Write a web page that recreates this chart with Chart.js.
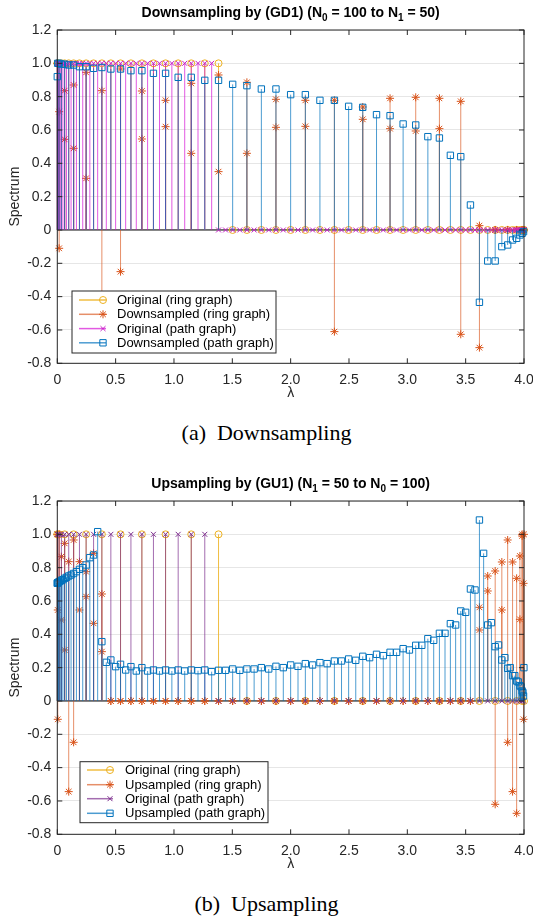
<!DOCTYPE html>
<html lang="en">
<head>
<meta charset="utf-8"/>
<title>Spectrum of down/upsampled signals</title>
<script src="https://cdn.jsdelivr.net/npm/chart.js"></script>
<style>
  body { margin: 0; background: #fff; width: 533px; height: 918px; position: relative; overflow: hidden; }
  canvas { position: absolute; left: 0; }
  #down { top: 0; }
  #up { top: 471px; }
  .cap { position: absolute; left: 0; width: 533px; text-align: center;
         font-family: "Liberation Serif", "Times New Roman", serif; font-size: 22px; color: #000; }
</style>
</head>
<body>
<canvas id="down" width="533" height="400"></canvas>
<div class="cap" style="top:420px">(a)&nbsp; Downsampling</div>
<canvas id="up" width="533" height="400"></canvas>
<div class="cap" style="top:891px">(b)&nbsp; Upsampling</div>
<script>
// graph frequencies (eigenvalues) for path / ring graphs
const lamPath100 = [0, 0.001, 0.004, 0.009, 0.016, 0.025, 0.035, 0.048, 0.063, 0.079,
  0.098, 0.118, 0.140, 0.164, 0.190, 0.218, 0.247, 0.279, 0.311, 0.346,
  0.382, 0.420, 0.459, 0.500, 0.542, 0.586, 0.631, 0.677, 0.725, 0.774,
  0.824, 0.876, 0.928, 0.982, 1.036, 1.092, 1.148, 1.206, 1.264, 1.323,
  1.382, 1.442, 1.503, 1.564, 1.625, 1.687, 1.749, 1.812, 1.874, 1.937,
  2.000, 2.063, 2.126, 2.188, 2.251, 2.313, 2.375, 2.436, 2.497, 2.558,
  2.618, 2.677, 2.736, 2.794, 2.852, 2.908, 2.964, 3.018, 3.072, 3.124,
  3.176, 3.226, 3.275, 3.323, 3.369, 3.414, 3.458, 3.500, 3.541, 3.580,
  3.618, 3.654, 3.689, 3.721, 3.753, 3.782, 3.810, 3.836, 3.860, 3.882,
  3.902, 3.921, 3.937, 3.952, 3.965, 3.975, 3.984, 3.991, 3.996, 3.999];
const lamPath50 = [0, 0.004, 0.016, 0.035, 0.063, 0.098, 0.140, 0.190, 0.247, 0.311,
  0.382, 0.459, 0.542, 0.631, 0.725, 0.824, 0.928, 1.036, 1.148, 1.264,
  1.382, 1.503, 1.625, 1.749, 1.874, 2.000, 2.126, 2.251, 2.375, 2.497,
  2.618, 2.736, 2.852, 2.964, 3.072, 3.176, 3.275, 3.369, 3.458, 3.541,
  3.618, 3.689, 3.753, 3.810, 3.860, 3.902, 3.937, 3.965, 3.984, 3.996];
const lamRing100 = [0, 0.004, 0.016, 0.035, 0.063, 0.098, 0.140, 0.190, 0.247, 0.311,
  0.382, 0.459, 0.542, 0.631, 0.725, 0.824, 0.928, 1.036, 1.148, 1.264,
  1.382, 1.503, 1.625, 1.749, 1.874, 2.000, 2.126, 2.251, 2.375, 2.497,
  2.618, 2.736, 2.852, 2.964, 3.072, 3.176, 3.275, 3.369, 3.458, 3.541,
  3.618, 3.689, 3.753, 3.810, 3.860, 3.902, 3.937, 3.965, 3.984, 3.996, 4.000];
const lamRing50 = [0, 0.016, 0.063, 0.140, 0.247, 0.382, 0.542, 0.725, 0.928, 1.148,
  1.382, 1.625, 1.874, 2.126, 2.375, 2.618, 2.852, 3.072, 3.275, 3.458,
  3.618, 3.753, 3.860, 3.937, 3.984, 4.000];

// (a) downsampling N0 = 100 -> N1 = 50
const origRingA = [1, 1, 1, 1, 1, 1, 1, 1, 1, 1, 1, 1, 1, 1, 1, 1, 1, 1, 1, 1, 1,
  0, 0, 0, 0, 0, 0, 0, 0, 0, 0, 0, 0, 0, 0, 0, 0, 0, 0, 0, 0, 0, 0, 0, 0, 0, 0, 0, 0, 0, 0];
const origPathA = [1, 1, 1, 1, 1, 1, 1, 1, 1, 1, 1, 1, 1, 1, 1, 1, 1, 1, 1, 1,
  1, 1, 1, 1, 1, 1, 1, 1, 1, 1, 1, 1, 1, 1, 1, 1, 1, 1, 1, 1,
  0, 0, 0, 0, 0, 0, 0, 0, 0, 0, 0, 0, 0, 0, 0, 0, 0, 0, 0, 0,
  0, 0, 0, 0, 0, 0, 0, 0, 0, 0, 0, 0, 0, 0, 0, 0, 0, 0, 0, 0,
  0, 0, 0, 0, 0, 0, 0, 0, 0, 0, 0, 0, 0, 0, 0, 0, 0, 0, 0, 0];
// ring eigenvalues repeat, so each frequency holds one or two coefficients
const downRingA = [[1.0], [0.71, -0.11], [0.836, 0.544], [0.87, 0.49], [0.946, 0.31],
  [0.836, -0.5], [0.966, -0.25], [0.834, 0.546], [0.778, 0.62], [0.88, 0.46],
  [0.93, 0.35], [0.886, 0.46], [0.784, 0.616], [0.778, 0.622], [0.778, -0.61],
  [0.738, 0.664], [0.79, 0.608], [0.796, 0.594], [0.79, 0.608], [0.772, -0.626],
  [0.026, -0.706], [0, 0], [0, 0], [0, 0], [0, 0], [0]];
const downPathA = [0.92, 1.0, 1.0, 0.995, 0.995, 0.99, 0.99, 0.98, 0.98, 0.97,
  0.975, 0.966, 0.966, 0.956, 0.956, 0.94, 0.94, 0.916, 0.916, 0.898,
  0.898, 0.874, 0.866, 0.846, 0.846, 0.812, 0.812, 0.778, 0.778, 0.742,
  0.736, 0.692, 0.686, 0.636, 0.63, 0.56, 0.552, 0.448, 0.44, 0.15,
  -0.434, -0.186, -0.186, -0.1, -0.09, -0.06, -0.05, -0.03, -0.02, -0.01];

// (b) upsampling N1 = 50 -> N0 = 100
const origRingB = [1, 1, 1, 1, 1, 1, 1, 1, 1, 1, 1, 0, 0, 0, 0, 0, 0, 0, 0, 0, 0, 0, 0, 0, 0, 0];
const origPathB = [1, 1, 1, 1, 1, 1, 1, 1, 1, 1, 1, 1, 1, 1, 1, 1, 1, 1, 1, 1,
  0, 0, 0, 0, 0, 0, 0, 0, 0, 0, 0, 0, 0, 0, 0, 0, 0, 0, 0, 0, 0, 0, 0, 0, 0, 0, 0, 0, 0, 0];
const upRingB = [[1.0], [0.546, -0.11], [1.0, 0.72], [0.866, 0.486], [0.946, 0.306],
  [0.836, -0.544], [0.966, -0.248], [0.836, 0.546], [0.776, 0.626], [0.886, 0.466],
  [0.642, 0.296], [0, 0], [0, 0], [0, 0], [0, 0], [0, 0], [0, 0], [0, 0], [0, 0], [0, 0],
  [0, 0], [0, 0], [0, 0], [0, 0], [0, 0], [0, 0], [0, 0], [0, 0], [0, 0], [0, 0],
  [0, 0], [0, 0], [0, 0], [0, 0], [0, 0], [0, 0], [0, 0], [0, 0], [0, 0], [0, 0],
  [0.562, 0.426], [0.75, 0.66], [0.78, -0.62], [0.834, 0.546], [0.966, -0.248],
  [0.834, -0.544], [0.736, -0.674], [0.87, 0.49], [1.0, 0.99], [0.706, -0.11], [1.0]];
const upPathB = [0.706, 0.708, 0.71, 0.712, 0.716, 0.72, 0.724, 0.728, 0.736, 0.742,
  0.75, 0.756, 0.765, 0.776, 0.79, 0.80, 0.816, 0.86, 0.876, 1.016,
  0.356, 0.232, 0.246, 0.206, 0.22, 0.186, 0.206, 0.18, 0.2, 0.18,
  0.186, 0.18, 0.186, 0.18, 0.186, 0.18, 0.186, 0.182, 0.186, 0.176,
  0.184, 0.184, 0.192, 0.184, 0.192, 0.192, 0.2, 0.192, 0.208, 0.2,
  0.216, 0.208, 0.224, 0.216, 0.23, 0.224, 0.24, 0.24, 0.252, 0.244,
  0.268, 0.26, 0.28, 0.272, 0.292, 0.292, 0.314, 0.306, 0.334, 0.334,
  0.374, 0.364, 0.406, 0.406, 0.464, 0.456, 0.54, 0.532, 0.672, 0.666,
  1.086, 0.886, 0.456, 0.47, 0.326, 0.336, 0.246, 0.26, 0.196, 0.2,
  0.152, 0.152, 0.12, 0.114, 0.092, 0.085, 0.06, 0.05, 0.03, 0.2];

const ink = '#262626';
const fontFam = '"Liberation Sans", Arial, Helvetica, sans-serif';
Chart.defaults.font.family = fontFam;
Chart.defaults.color = ink;

function pts(xs, ys) { return ys.map((v, i) => ({ x: xs[i], y: v })); }
function groupPts(xs, groups) {
  const out = [];
  groups.forEach((g, i) => g.forEach(v => out.push({ x: xs[i], y: v })));
  return out;
}
const fmt = v => Math.abs(v) < 1e-9 ? '0' : v.toFixed(1);

function series(label, data, style, color, stem, radius, order) {
  return {
    label, data, order, stemColor: stem,
    pointStyle: style, pointRadius: radius, pointHoverRadius: radius,
    pointBorderColor: color, borderColor: color,
    pointBackgroundColor: 'rgba(0,0,0,0)', backgroundColor: 'rgba(0,0,0,0)',
    pointBorderWidth: 1, clip: false
  };
}

function marker(ctx, style, x, y, r) {
  const s = r * Math.SQRT1_2;
  ctx.beginPath();
  if (style === 'circle') ctx.arc(x, y, r, 0, Math.PI * 2);
  else if (style === 'rect') ctx.rect(x - s, y - s, 2 * s, 2 * s);
  else {
    ctx.moveTo(x - s, y - s); ctx.lineTo(x + s, y + s);
    ctx.moveTo(x - s, y + s); ctx.lineTo(x + s, y - s);
    if (style === 'star') { ctx.moveTo(x - r, y); ctx.lineTo(x + r, y); ctx.moveTo(x, y - r); ctx.lineTo(x, y + r); }
  }
  ctx.stroke();
}

// stems, baseline, box with inward ticks, title with subscripts and legend
const stemPlot = {
  id: 'stemPlot',
  beforeDatasetsDraw(chart) {
    const { ctx, chartArea: a, scales: { y } } = chart;
    const y0 = y.getPixelForValue(0);
    ctx.save();
    ctx.strokeStyle = '#000';
    ctx.lineWidth = 1;
    ctx.beginPath(); ctx.moveTo(a.left, y0); ctx.lineTo(a.right, y0); ctx.stroke();
    ctx.restore();
  },
  beforeDatasetDraw(chart, args) {
    const ds = chart.data.datasets[args.index];
    const ctx = chart.ctx;
    const y0 = chart.scales.y.getPixelForValue(0);
    ctx.save();
    ctx.strokeStyle = ds.stemColor;
    ctx.lineWidth = 1;
    ctx.beginPath();
    args.meta.data.forEach(p => { ctx.moveTo(p.x, y0); ctx.lineTo(p.x, p.y); });
    ctx.stroke();
    ctx.restore();
  },
  afterDraw(chart, args, o) {
    const { ctx, chartArea: a, scales: { x, y } } = chart;
    ctx.save();
    ctx.strokeStyle = ink;
    ctx.lineWidth = 1;
    ctx.strokeRect(a.left, a.top, a.right - a.left, a.bottom - a.top);
    ctx.beginPath();
    x.ticks.forEach(t => {
      const px = x.getPixelForValue(t.value);
      ctx.moveTo(px, a.bottom); ctx.lineTo(px, a.bottom - 5);
      ctx.moveTo(px, a.top); ctx.lineTo(px, a.top + 5);
    });
    y.ticks.forEach(t => {
      const py = y.getPixelForValue(t.value);
      ctx.moveTo(a.left, py); ctx.lineTo(a.left + 5, py);
      ctx.moveTo(a.right, py); ctx.lineTo(a.right - 5, py);
    });
    ctx.stroke();

    // title
    const big = 'bold 14px ' + fontFam, small = 'bold 10px ' + fontFam;
    let w = 0;
    o.title.forEach(([t, sub]) => { ctx.font = sub ? small : big; w += ctx.measureText(t).width; });
    let tx = (a.left + a.right) / 2 - w / 2;
    ctx.fillStyle = '#000';
    ctx.textBaseline = 'alphabetic';
    ctx.textAlign = 'left';
    o.title.forEach(([t, sub]) => {
      ctx.font = sub ? small : big;
      ctx.fillText(t, tx, sub ? o.titleY + 4 : o.titleY);
      tx += ctx.measureText(t).width;
    });

    // legend
    const L = o.legend;
    ctx.fillStyle = '#fff';
    ctx.fillRect(L.x, L.y, L.w, L.h);
    ctx.strokeStyle = ink;
    ctx.strokeRect(L.x, L.y, L.w, L.h);
    ctx.font = '13px ' + fontFam;
    ctx.textBaseline = 'middle';
    chart.data.datasets.forEach((ds, i) => {
      const ry = L.rows[i];
      ctx.strokeStyle = ds.stemColor;
      ctx.lineWidth = 1.5;
      ctx.beginPath(); ctx.moveTo(L.x1, ry); ctx.lineTo(L.x2, ry); ctx.stroke();
      ctx.lineWidth = 1;
      ctx.strokeStyle = ds.pointBorderColor;
      marker(ctx, ds.pointStyle, L.mx, ry, ds.pointRadius);
      ctx.fillStyle = '#000';
      ctx.fillText(ds.label, L.tx, ry + 0.5);
    });
    ctx.restore();
  }
};

function stemChart(id, datasets, title, legend) {
  return new Chart(document.getElementById(id), {
    type: 'scatter',
    data: { datasets },
    options: {
      responsive: false,
      animation: false,
      events: [],
      layout: { padding: { top: 30, right: 9, left: 0, bottom: 0 } },
      plugins: {
        legend: { display: false },
        tooltip: { enabled: false },
        stemPlot: { title, titleY: 17, legend }
      },
      scales: {
        x: {
          type: 'linear', min: 0, max: 4,
          afterFit: s => { s.height = 36.7; s.paddingLeft = 0; s.paddingRight = 0; },
          ticks: { stepSize: 0.5, padding: 8, color: ink, font: { size: 14 }, callback: fmt },
          grid: { display: false, drawTicks: false },
          border: { display: false },
          title: { display: true, text: 'λ', color: ink, font: { size: 14 }, padding: { top: 0, bottom: -2 } }
        },
        y: {
          min: -0.8, max: 1.2,
          afterFit: s => { s.width = 57.3; s.paddingTop = 0; s.paddingBottom = 0; },
          ticks: { stepSize: 0.2, padding: 6, color: ink, font: { size: 14 }, callback: fmt },
          grid: { color: '#e6e6e6', drawTicks: false },
          border: { display: false },
          title: { display: true, text: 'Spectrum', color: ink, font: { size: 14 }, padding: { top: 6.6, bottom: 0 } }
        }
      }
    },
    plugins: [stemPlot]
  });
}

stemChart('down', [
  series('Original (ring graph)', pts(lamRing100, origRingA), 'circle', '#EDB120', 'rgba(237,177,32,0.85)', 3.5, 4),
  series('Downsampled (ring graph)', groupPts(lamRing50, downRingA), 'star', '#D95319', 'rgba(217,83,25,0.65)', 4, 3),
  series('Original (path graph)', pts(lamPath100, origPathA), 'crossRot', '#C81EC8', 'rgba(210,0,210,0.65)', 3.5, 2),
  series('Downsampled (path graph)', pts(lamPath50, downPathA), 'rect', '#0072BD', 'rgba(0,114,189,0.7)', 4.5, 1)
], [['Downsampling by (GD1) (N', 0], ['0', 1], [' = 100 to N', 0], ['1', 1], [' = 50)', 0]],
   { x: 72, y: 291, w: 204, h: 62, x1: 79, x2: 106, mx: 103, tx: 117, rows: [300, 314.3, 328.6, 342.8] });

stemChart('up', [
  series('Original (ring graph)', pts(lamRing50, origRingB), 'circle', '#EDB120', 'rgba(237,177,32,0.85)', 3.5, 4),
  series('Upsampled (ring graph)', groupPts(lamRing100, upRingB), 'star', '#D95319', 'rgba(217,83,25,0.65)', 4, 3),
  series('Original (path graph)', pts(lamPath50, origPathB), 'crossRot', '#7E2F8E', 'rgba(126,47,142,0.7)', 3.5, 2),
  series('Upsampled (path graph)', pts(lamPath100, upPathB), 'rect', '#0072BD', 'rgba(0,114,189,0.7)', 4.5, 1)
], [['Upsampling by (GU1) (N', 0], ['1', 1], [' = 50 to N', 0], ['0', 1], [' = 100)', 0]],
   { x: 80, y: 290.7, w: 188, h: 61, x1: 87, x2: 113, mx: 110, tx: 125, rows: [299, 313.7, 327.7, 342.3] });
</script>
</body>
</html>
